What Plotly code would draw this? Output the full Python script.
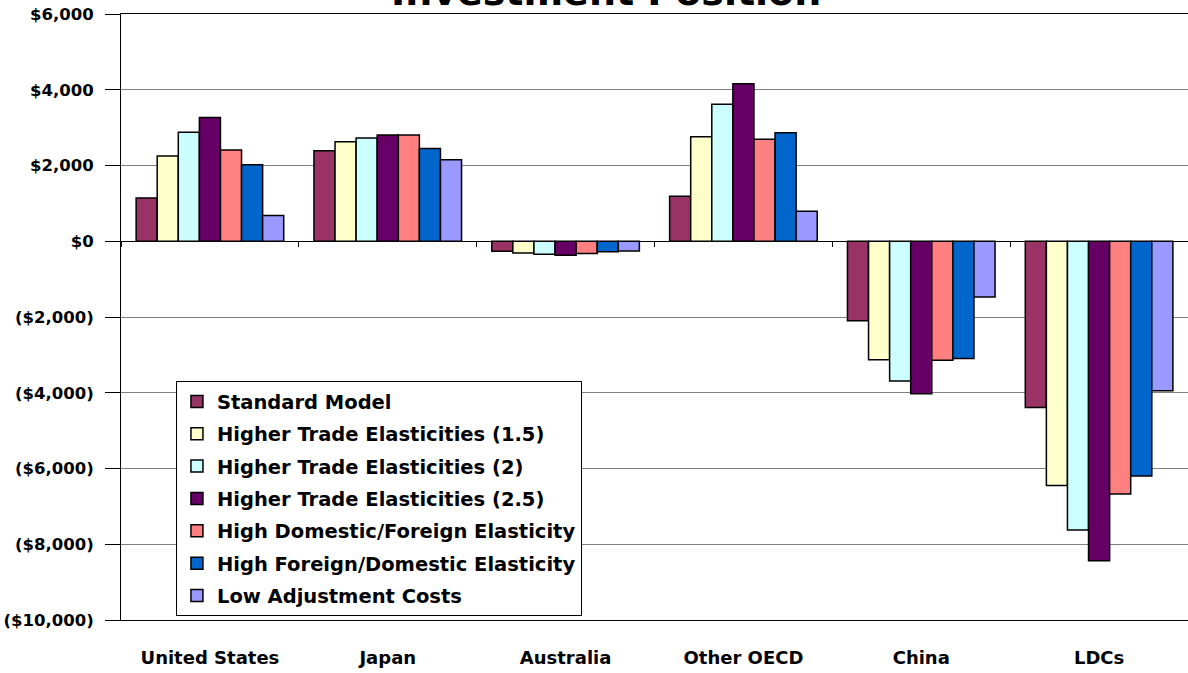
import plotly.graph_objects as go

categories = ["United States", "Japan", "Australia", "Other OECD", "China", "LDCs"]

series_names = [
    "Standard Model",
    "Higher Trade Elasticities (1.5)",
    "Higher Trade Elasticities (2)",
    "Higher Trade Elasticities (2.5)",
    "High Domestic/Foreign Elasticity",
    "High Foreign/Domestic Elasticity",
    "Low Adjustment Costs",
]

standard_model = [1140, 2390, -265, 1190, -2100, -4390]
higher_trade_15 = [2250, 2625, -310, 2760, -3130, -6450]
higher_trade_2 = [2880, 2725, -345, 3615, -3690, -7625]
higher_trade_25 = [3270, 2805, -370, 4160, -4025, -8435]
high_dom_foreign = [2410, 2805, -325, 2690, -3140, -6675]
high_foreign_dom = [2020, 2450, -280, 2865, -3095, -6200]
low_adjustment = [680, 2150, -255, 790, -1475, -3945]

series_values = [standard_model, higher_trade_15, higher_trade_2, higher_trade_25,
                 high_dom_foreign, high_foreign_dom, low_adjustment]

colors = ["#993366", "#FFFFCC", "#CCFFFF", "#660066", "#FF8080", "#0066CC", "#9999FF"]

tick_values = [6000, 4000, 2000, 0, -2000, -4000, -6000, -8000, -10000]
tick_labels = ["$6,000", "$4,000", "$2,000", "$0", "($2,000)", "($4,000)",
               "($6,000)", "($8,000)", "($10,000)"]

FONT = "DejaVu Sans"

fig = go.Figure()
for i, (name, vals, col) in enumerate(zip(series_names, series_values, colors)):
    fig.add_trace(go.Bar(
        x=categories, y=vals, name=name, legendgroup=f"g{i}",
        marker=dict(color=col, line=dict(color="black", width=1.5)),
    ))

# helper trace so the category axis crossing at zero shows its boundary ticks
fig.add_trace(go.Scatter(
    x=categories, y=[0] * len(categories), xaxis="x2", yaxis="y",
    mode="markers", marker=dict(opacity=0), showlegend=False, hoverinfo="skip",
))

fig.update_layout(
    width=1188, height=673,
    margin=dict(l=121, r=0, t=14, b=53),
    paper_bgcolor="white", plot_bgcolor="white",
    barmode="group", bargap=0.17, bargroupgap=0,
    font=dict(family=FONT, color="black"),
    showlegend=True,
    legend=dict(
        x=0.0515, y=0.394, xanchor="left", yanchor="top",
        bgcolor="white", bordercolor="black", borderwidth=1,
        font=dict(family=FONT, size=19.5, color="black", weight="bold"),
        tracegroupgap=4, itemwidth=30,
    ),
    xaxis=dict(
        type="category", showgrid=False, zeroline=False,
        showline=True, mirror=True, linecolor="black", linewidth=1,
        ticks="outside", ticklen=0, tickcolor="white",
        ticklabelstandoff=21,
        tickfont=dict(family=FONT, size=18, color="black", weight="bold"),
    ),
    xaxis2=dict(
        type="category", overlaying="x", matches="x", anchor="free", position=0.625,
        showline=True, linecolor="black", linewidth=1,
        ticks="outside", tickson="boundaries", ticklen=5, tickcolor="black",
        showticklabels=False, showgrid=False, zeroline=False,
    ),
    yaxis=dict(
        range=[-10000, 6000], tickvals=tick_values, ticktext=tick_labels,
        showgrid=True, gridcolor="#808080", gridwidth=1,
        zeroline=False, showline=True, linecolor="black", linewidth=1,
        ticks="outside", ticklen=15, tickcolor="black",
        ticklabelstandoff=8,
        tickfont=dict(family=FONT, size=16.5, color="black", weight="bold"),
    ),
    annotations=[dict(
        text="Investment Position", xref="paper", yref="paper",
        x=0.455, y=1, xanchor="center", yanchor="bottom", showarrow=False,
        font=dict(family=FONT, size=38, color="black", weight="bold"),
        yshift=-2,
    )],
)

fig.write_html("out.html", config={"displayModeBar": False},
               post_script="document.body.style.margin='0';")
